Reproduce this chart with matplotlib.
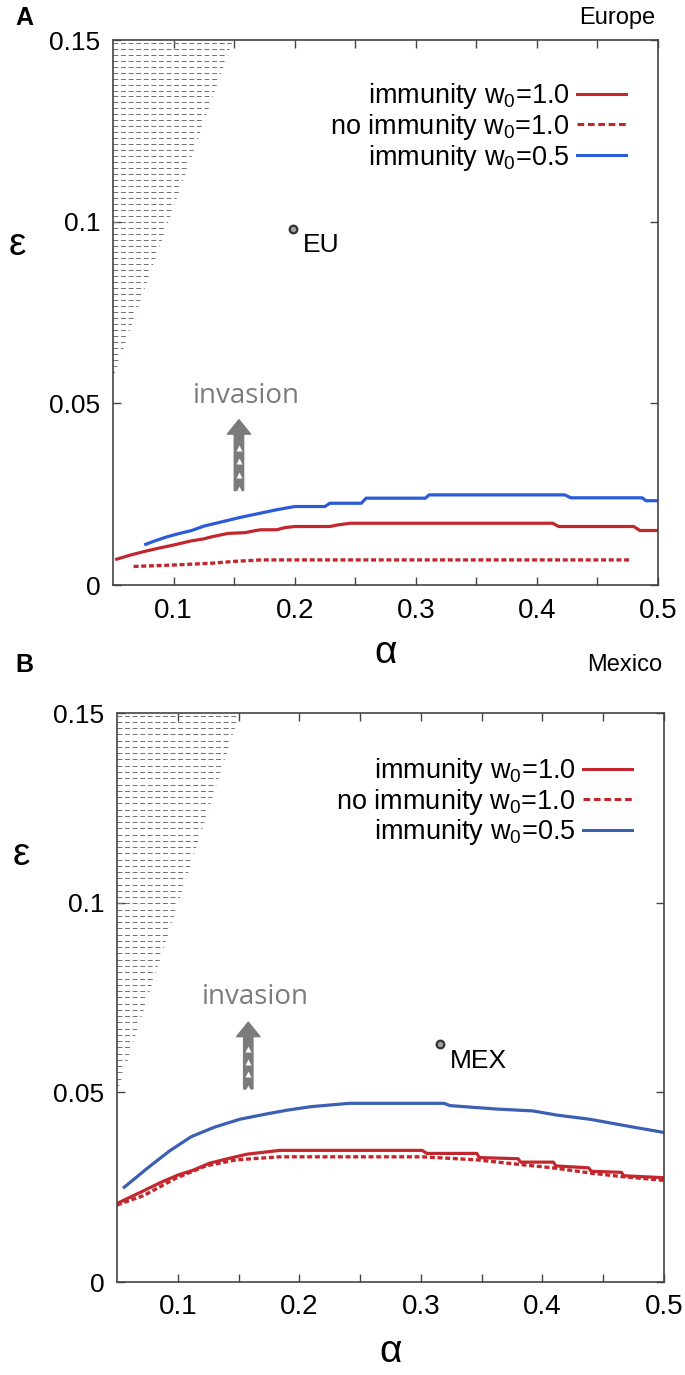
import matplotlib
matplotlib.use('Agg')
import matplotlib.pyplot as plt
import numpy as np
from matplotlib.patches import Polygon
from matplotlib.lines import Line2D

plt.rcParams['font.family'] = ['Liberation Sans', 'DejaVu Sans']
plt.rcParams['mathtext.fontset'] = 'custom'
plt.rcParams['mathtext.rm'] = 'Liberation Sans'
plt.rcParams['mathtext.it'] = 'Liberation Sans:italic'

RED = '#c3272e'
GRAY = '#7b7b7b'

# ---- Europe (A)
eu_imm_a = [0.053, 0.065, 0.078, 0.090, 0.100, 0.114, 0.125, 0.132, 0.145, 0.152, 0.159, 0.168,
            0.172, 0.185, 0.192, 0.200, 0.229, 0.235, 0.246, 0.413, 0.418, 0.480, 0.485, 0.500]
eu_imm_e = [0.0071, 0.0083, 0.0094, 0.0103, 0.0110, 0.0121, 0.0127, 0.0133, 0.0142, 0.0143, 0.0144, 0.0150,
            0.0152, 0.0152, 0.0158, 0.0161, 0.0161, 0.0165, 0.0170, 0.0170, 0.0161, 0.0161, 0.0150, 0.0150]
eu_noimm_a = [0.067, 0.100, 0.132, 0.150, 0.172, 0.250, 0.350, 0.477]
eu_noimm_e = [0.0051, 0.0055, 0.0060, 0.0065, 0.0069, 0.0069, 0.0069, 0.0069]
eu_half_a = [0.077, 0.085, 0.095, 0.105, 0.115, 0.125, 0.135, 0.145, 0.155, 0.165, 0.175, 0.185,
             0.200, 0.225, 0.229, 0.255, 0.259, 0.308, 0.311, 0.423, 0.428, 0.487, 0.490, 0.500]
eu_half_e = [0.0112, 0.0122, 0.0133, 0.0142, 0.0150, 0.0162, 0.0170, 0.0178, 0.0186, 0.0193, 0.0200, 0.0207,
             0.0216, 0.0216, 0.0225, 0.0225, 0.0239, 0.0239, 0.0248, 0.0248, 0.0240, 0.0240, 0.0232, 0.0232]
eu_hatch_a = [0.05, 0.149, 0.05]
eu_hatch_e = [0.15, 0.15, 0.057]
eu_point = (0.199, 0.098)

# ---- Mexico (B)
mex_imm_a = [0.050, 0.069, 0.087, 0.101, 0.112, 0.126, 0.141, 0.157, 0.184, 0.301, 0.305, 0.346,
             0.348, 0.380, 0.382, 0.409, 0.411, 0.438, 0.440, 0.465, 0.467, 0.500]
mex_imm_e = [0.0207, 0.0236, 0.0264, 0.0283, 0.0294, 0.0313, 0.0325, 0.0337, 0.0347, 0.0347, 0.0339, 0.0339,
             0.0328, 0.0325, 0.0316, 0.0316, 0.0306, 0.0301, 0.0292, 0.0289, 0.0280, 0.0275]
mex_noimm_a = [0.050, 0.072, 0.098, 0.123, 0.148, 0.184, 0.301, 0.346, 0.378, 0.411, 0.440, 0.465, 0.500]
mex_noimm_e = [0.0203, 0.0228, 0.0273, 0.0306, 0.0322, 0.0330, 0.0330, 0.0322, 0.0311, 0.0300, 0.0287, 0.0278, 0.0268]
mex_half_a = [0.056, 0.075, 0.093, 0.111, 0.130, 0.151, 0.173, 0.190, 0.209, 0.241, 0.319, 0.324,
              0.362, 0.392, 0.412, 0.439, 0.458, 0.477, 0.495, 0.500]
mex_half_e = [0.0250, 0.0300, 0.0345, 0.0383, 0.0408, 0.0429, 0.0443, 0.0453, 0.0462, 0.0471, 0.0471, 0.0465,
              0.0456, 0.0451, 0.0440, 0.0429, 0.0418, 0.0407, 0.0397, 0.0394]
mex_hatch_a = [0.05, 0.151, 0.05]
mex_hatch_e = [0.15, 0.15, 0.050]
mex_point = (0.316, 0.0628)

labels = ['immunity w$_0$=1.0', 'no immunity w$_0$=1.0', 'immunity w$_0$=0.5']
xticks = [0.1, 0.2, 0.3, 0.4, 0.5]
yticks = [0, 0.05, 0.1, 0.15]
yticklabels = ['0', '0.05', '0.1', '0.15']


def panel(ax, imm, noimm, half, hatch, blue, pt, ptlabel, arrow, eps_label_y):
    ax.set_xlim(0.05, 0.5)
    ax.set_ylim(0, 0.15)

    # hatched (dashed) triangle
    poly = Polygon(np.column_stack(hatch), closed=True, fc='none', ec='none')
    ax.add_patch(poly)
    lev = np.arange(0.1493, min(hatch[1]) - 1e-9, -0.00165)
    hl = ax.hlines(lev, 0.05, max(hatch[0]), colors='#707070', lw=0.7,
                   linestyles=(0, (5, 2.8)))
    hl.set_clip_path(poly)

    ax.plot(*imm, color=RED, lw=2.3)
    ax.plot(*noimm, color=RED, lw=2.4, dashes=(1.5, 0.8))
    ax.plot(*half, color=blue, lw=2.3)

    ax.plot(*pt, 'o', ms=5.5, mfc='#a0a0a0', mec='#333333', mew=1.6)
    ax.text(pt[0] + 0.008, pt[1] - 0.0045, ptlabel, fontsize=19, va='center', ha='left')

    # invasion arrow
    ax_x, tail, tip = arrow
    ax.annotate('', xy=(ax_x, tip), xytext=(ax_x, tail),
                arrowprops=dict(arrowstyle='simple,head_length=0.65,head_width=1.05,tail_width=0.42',
                                color=GRAY, shrinkA=0, shrinkB=0, mutation_scale=16))
    for f in [0.02, 0.22, 0.41, 0.6]:
        ax.plot(ax_x, tail + f * (tip - tail), '^', ms=4, color='white', mec='none', zorder=5)
    ax.text(ax_x + 0.006, tip + 0.0066, 'invasion', fontsize=20, color=GRAY, ha='center', va='center',
            family=['Open Sans', 'DejaVu Sans'])

    handles = [Line2D([], [], color=RED, lw=2.2),
               Line2D([], [], color=RED, lw=2.2, dashes=(2.2, 1.2)),
               Line2D([], [], color=blue, lw=2.2)]
    ax.legend(handles, labels, loc='upper right', bbox_to_anchor=(0.941, 0.924), frameon=False,
              markerfirst=False, fontsize=19.5, handlelength=1.8, handletextpad=0.28,
              labelspacing=0.02, borderaxespad=0, borderpad=0)

    ax.set_xticks(xticks)
    ax.set_xticklabels(['0.1', '0.2', '0.3', '0.4', '0.5'])
    ax.set_xticks([0.15, 0.25, 0.35, 0.45], minor=True)
    ax.set_yticks(yticks)
    ax.set_yticklabels(yticklabels)
    ax.tick_params(which='both', direction='in', top=True, right=True, length=6, width=1,
                   color='#444444', labelsize=19)
    ax.tick_params(axis='x', pad=9)
    ax.tick_params(axis='y', pad=9)
    for lab in ax.get_xticklabels():
        lab.set_family(['Liberation Sans Narrow', 'Liberation Sans'])
        lab.set_fontsize(20)
    for s in ax.spines.values():
        s.set_color('#444444')
        s.set_linewidth(1.2)

    ax.set_xlabel('α', fontsize=28)
    ax.xaxis.set_label_coords(0.5, -0.092)
    ax.set_ylabel('ε', fontsize=28, rotation=0, va='center', ha='center')
    ax.yaxis.set_label_coords(-0.175, eps_label_y)


fig = plt.figure(figsize=(6.85, 13.75), dpi=100)
axA = fig.add_axes([113 / 685, 1 - 585 / 1375, 545 / 685, 545 / 1375])
axB = fig.add_axes([117 / 685, 1 - 1282 / 1375, 547 / 685, 569 / 1375])

panel(axA, (eu_imm_a, eu_imm_e), (eu_noimm_a, eu_noimm_e), (eu_half_a, eu_half_e),
      (eu_hatch_a, eu_hatch_e), '#2b5bd6', eu_point, 'EU', (0.154, 0.026, 0.0455), 0.624)
panel(axB, (mex_imm_a, mex_imm_e), (mex_noimm_a, mex_noimm_e), (mex_half_a, mex_half_e),
      (mex_hatch_a, mex_hatch_e), '#3b5fb3', mex_point, 'MEX', (0.158, 0.0509, 0.0685), 0.75)

fig.text(15 / 685, 1 - 18 / 1375, 'A', fontsize=18, fontweight='bold', ha='left', va='center')
fig.text(655 / 685, 1 - 18 / 1375, 'Europe', fontsize=17, ha='right', va='center')
fig.text(15 / 685, 1 - 665 / 1375, 'B', fontsize=18, fontweight='bold', ha='left', va='center')
fig.text(662 / 685, 1 - 665 / 1375, 'Mexico', fontsize=17, ha='right', va='center')

fig.savefig('out.png', dpi=100)
